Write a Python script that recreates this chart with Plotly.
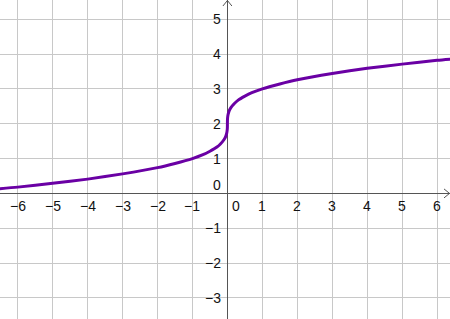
import plotly.graph_objects as go

# Curve points
curve_x = [-6.8, -6.0, -5.0, -4.0, -3.0, -2.0, -1.5, -1.0, -0.7, -0.5, -0.3, -0.2, -0.1,
           -0.05, -0.02, -0.005, -0.001, 0.0, 0.001, 0.005, 0.02, 0.05, 0.1, 0.2, 0.3,
           0.5, 0.7, 1.0, 1.5, 2.0, 3.0, 4.0, 5.0, 6.0, 6.6]
curve_y = [0.11, 0.18, 0.29, 0.41, 0.56, 0.74, 0.86, 1.00, 1.11, 1.21, 1.33, 1.42, 1.54,
           1.63, 1.73, 1.83, 1.90, 2.00, 2.10, 2.17, 2.27, 2.37, 2.46, 2.58, 2.67,
           2.79, 2.89, 3.00, 3.14, 3.26, 3.44, 3.59, 3.71, 3.82, 3.87]

x_ticks = [-6, -5, -4, -3, -2, -1, 1, 2, 3, 4, 5, 6]
y_ticks = [-3, -2, -1, 1, 2, 3, 4, 5]

X_RANGE = [-6.507, 6.369]
Y_RANGE = [-3.604, 5.55]

AXIS_COLOR = "#555555"
GRID_COLOR = "#c8c8c8"
CURVE_COLOR = "#6a00a4"
FONT = dict(family="Liberation Sans, Arial, sans-serif", size=14, color="#111111")


def label(v):
    return ("\u2212" + str(-v)) if v < 0 else str(v)


fig = go.Figure()
fig.add_trace(go.Scatter(x=curve_x, y=curve_y, mode="lines",
                         line=dict(color=CURVE_COLOR, width=3, shape="spline", smoothing=0.6),
                         hoverinfo="skip", showlegend=False))

annotations = []
for v in x_ticks:
    annotations.append(dict(x=v, y=0, xref="x", yref="y", text=label(v), showarrow=False,
                            yanchor="top", yshift=-3, font=FONT))
annotations.append(dict(x=0, y=0, xref="x", yref="y", text="0", showarrow=False,
                        xanchor="left", yanchor="top", xshift=3, yshift=-3, font=FONT))
for v in y_ticks:
    annotations.append(dict(x=0, y=v, xref="x", yref="y", text=label(v), showarrow=False,
                            xanchor="right", xshift=-4, font=FONT))
annotations.append(dict(x=0, y=0, xref="x", yref="y", text="0", showarrow=False,
                        xanchor="right", yanchor="bottom", xshift=-4, yshift=-2, font=FONT))

shapes = [
    dict(type="path", xref="paper", yref="y", xsizemode="pixel", ysizemode="pixel",
         xanchor=1, yanchor=0, path="M -6,4.5 L -0.5,0 L -6,-4.5",
         line=dict(color=AXIS_COLOR, width=1)),
    dict(type="path", xref="x", yref="paper", xsizemode="pixel", ysizemode="pixel",
         xanchor=0, yanchor=1, path="M -4.5,-6 L 0,-0.5 L 4.5,-6",
         line=dict(color=AXIS_COLOR, width=1)),
]

axis_common = dict(showgrid=True, gridcolor=GRID_COLOR, gridwidth=1, dtick=1, tick0=0,
                   zeroline=True, zerolinecolor=AXIS_COLOR, zerolinewidth=1.2,
                   showticklabels=False, ticks="", showline=False, fixedrange=True)

fig.update_layout(
    width=450, height=319,
    margin=dict(l=0, r=0, t=0, b=0, pad=0),
    paper_bgcolor="white", plot_bgcolor="white",
    xaxis=dict(range=X_RANGE, **axis_common),
    yaxis=dict(range=Y_RANGE, **axis_common),
    annotations=annotations,
    shapes=shapes,
    showlegend=False,
)

fig.write_html("out.html", config={"displayModeBar": False})
